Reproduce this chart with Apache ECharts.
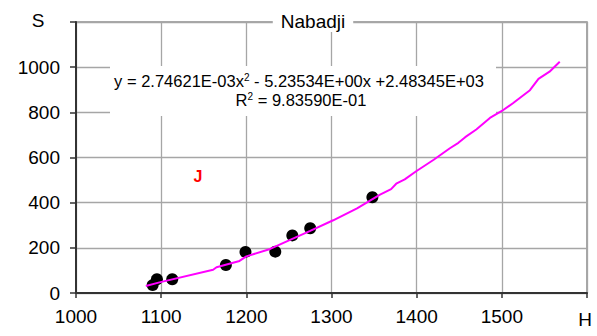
<!DOCTYPE html>
<html>
<head>
<meta charset="utf-8">
<style>
  html, body { margin: 0; padding: 0; background: #fff; }
  #chart { width: 597px; height: 336px; }
</style>
<script src="https://cdn.jsdelivr.net/npm/echarts@6/dist/echarts.min.js"></script>
</head>
<body>
<div id="chart"></div>
<script>
// Observed stage (H) and discharge/area (S) measurements
const obsH = [1090, 1095, 1113, 1176, 1199, 1234, 1254, 1275, 1348];
const obsS = [35, 61, 61, 124, 182, 183, 255, 287, 424];

// Fitted rating curve sampled along H
const fitH = [1082, 1098, 1161, 1165, 1192, 1200, 1228, 1254, 1275, 1302, 1330, 1357, 1370, 1376, 1386, 1399, 1420, 1439, 1449, 1457, 1470, 1486, 1500, 1513, 1533, 1543, 1556, 1568];
const fitS = [31, 47, 103, 114, 142, 162, 195, 240, 275, 322, 375, 436, 460, 484, 503, 538, 590, 641, 665, 690, 724, 775, 806, 840, 898, 948, 980, 1024];

// Axis ticks
const xTicks = [1000, 1100, 1200, 1300, 1400, 1500, 1600];
const yTicks = [0, 200, 400, 600, 800, 1000, 1200];

const titleText = 'Nabadji';
const equationText = 'y = 2.74621E-03x{sup|2} - 5.23534E+00x +2.48345E+03';
const r2Text = 'R{sup|2} = 9.83590E-01';
const markerText = 'J';

const FONT = '"Liberation Sans", Arial, sans-serif';

const chart = echarts.init(document.getElementById('chart'), null, { renderer: 'svg' });

const xMin = xTicks[0], xMax = xTicks[xTicks.length - 1];
const yMin = yTicks[0], yMax = yTicks[yTicks.length - 1];

const supStyle = { fontSize: 10, verticalAlign: 'top', padding: [0, 0, 8, 0], fill: '#000' };

chart.setOption({
  animation: false,
  backgroundColor: '#fff',
  textStyle: { fontFamily: FONT },
  title: {
    text: titleText,
    left: 305,
    top: 11,
    textAlign: 'center',
    backgroundColor: '#fff',
    padding: [1, 8],
    textStyle: { fontFamily: FONT, fontSize: 19, fontWeight: 'normal', color: '#000' }
  },
  grid: {
    left: 76, right: 10, top: 22, bottom: 43,
    show: true,
    borderColor: '#8c8c8c',
    borderWidth: 1.5,
    backgroundColor: '#fff'
  },
  xAxis: {
    type: 'value',
    min: xMin, max: xMax, interval: xTicks[1] - xTicks[0],
    axisLine: { show: true, onZero: false, lineStyle: { color: '#333', width: 2 } },
    axisTick: { show: true, inside: false, length: 5, lineStyle: { color: '#333', width: 1.5 } },
    axisLabel: {
      margin: 14,
      fontSize: 19, color: '#000', fontFamily: FONT,
      formatter: v => (v === xMax ? '' : String(v))
    },
    splitLine: { show: true, lineStyle: { color: '#a6a6a6', width: 1.3 } }
  },
  yAxis: {
    type: 'value',
    min: yMin, max: yMax, interval: yTicks[1] - yTicks[0],
    axisLine: { show: true, onZero: false, lineStyle: { color: '#333', width: 2 } },
    axisTick: { show: true, inside: false, length: 6, lineStyle: { color: '#333', width: 1.5 } },
    axisLabel: {
      margin: 16,
      fontSize: 19, color: '#000', fontFamily: FONT,
      formatter: v => (v === yMax ? '' : String(v))
    },
    splitLine: { show: true, lineStyle: { color: '#a6a6a6', width: 1.3 } }
  },
  graphic: [
    // white panel behind the regression equation
    { type: 'rect', z: 3, shape: { x: 110, y: 66, width: 386, height: 50 }, style: { fill: '#fff' } },
    {
      type: 'text', z: 4, x: 299, y: 81,
      style: {
        text: equationText, align: 'center', verticalAlign: 'middle',
        font: '16.5px ' + FONT, fill: '#000',
        rich: { sup: supStyle }
      }
    },
    {
      type: 'text', z: 4, x: 301, y: 100,
      style: {
        text: r2Text, align: 'center', verticalAlign: 'middle',
        font: '16.5px ' + FONT, fill: '#000',
        rich: { sup: supStyle }
      }
    },
    { type: 'text', z: 4, x: 38, y: 20, style: { text: 'S', align: 'center', verticalAlign: 'middle', font: '19px ' + FONT, fill: '#000' } },
    { type: 'text', z: 4, x: 585, y: 319, style: { text: 'H', align: 'center', verticalAlign: 'middle', font: '19px ' + FONT, fill: '#000' } },
    { type: 'text', z: 4, x: 198, y: 176, style: { text: markerText, align: 'center', verticalAlign: 'middle', font: 'bold 16px ' + FONT, fill: '#ff0000' } }
  ],
  series: [
    {
      type: 'scatter',
      z: 10,
      symbol: 'circle',
      symbolSize: 12,
      itemStyle: { color: '#000', opacity: 1 },
      data: obsH.map((h, i) => [h, obsS[i]])
    },
    {
      type: 'line',
      z: 11,
      symbol: 'none',
      smooth: false,
      lineStyle: { color: '#ff00ff', width: 2 },
      data: fitH.map((h, i) => [h, fitS[i]])
    }
  ]
});
</script>
</body>
</html>
